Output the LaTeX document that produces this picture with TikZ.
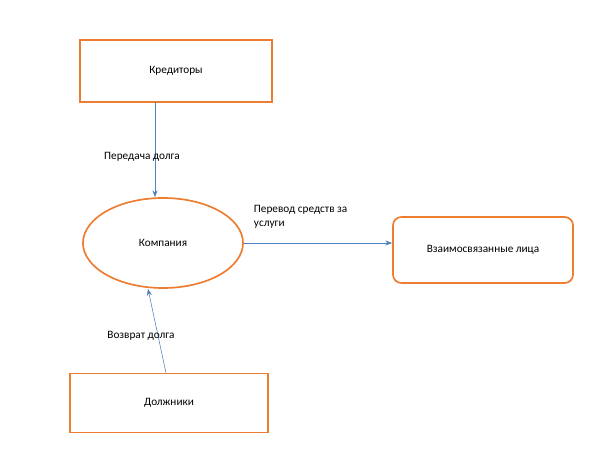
\documentclass[tikz,border=0pt]{standalone}
\usepackage{fontspec}
\setmainfont{Carlito}
\usepackage{tikz}
\usetikzlibrary{shapes.geometric, arrows.meta, positioning}
\definecolor{boxorange}{RGB}{237,125,49}
\definecolor{linkblue}{RGB}{79,129,189}
\tikzset{
	party/.style={draw=boxorange, line width=1.2pt, minimum width=4.8cm, minimum height=1.55cm, font=\fontsize{8}{10}\selectfont},
	link/.style={draw=linkblue, -Stealth, thin},
	caption/.style={font=\fontsize{8}{10}\selectfont, align=left}
}
\begin{document}
\begin{tikzpicture}[x=0.025cm, y=-0.025cm]
	\useasboundingbox (0,0) rectangle (600,457);
	
	% Parties
	\node[party] (cred) at (176,71) {Кредиторы};
	\node[party, draw, ellipse, minimum width=4cm, minimum height=2.25cm] (comp) at (163,243) {Компания};
	\node[party, rounded corners=6pt, minimum width=4.5cm, minimum height=1.65cm] (rel) at (483,250) {Взаимосвязанные лица};
	\node[party, minimum width=4.95cm, minimum height=1.48cm] (debt) at (169,403) {Должники};
	
	% Flows
	\coordinate (credout) at (155,102);
	\coordinate (debtout) at (166,373);
	\draw[link] (credout) -- (comp.north -| credout);
	\draw[link] (debtout) -- (comp.south -| 148,0);
	\draw[link] (comp.east) -- (rel.west |- comp.east);
	
	% Labels
	\node[caption] (l1) at (142,157) {Передача долга};
	\node[caption] (l2) at (141,336) {Возврат долга};
	\node[caption, anchor=west] (l3) at (249,217) {Перевод средств за\\услуги};
\end{tikzpicture}
\end{document}
